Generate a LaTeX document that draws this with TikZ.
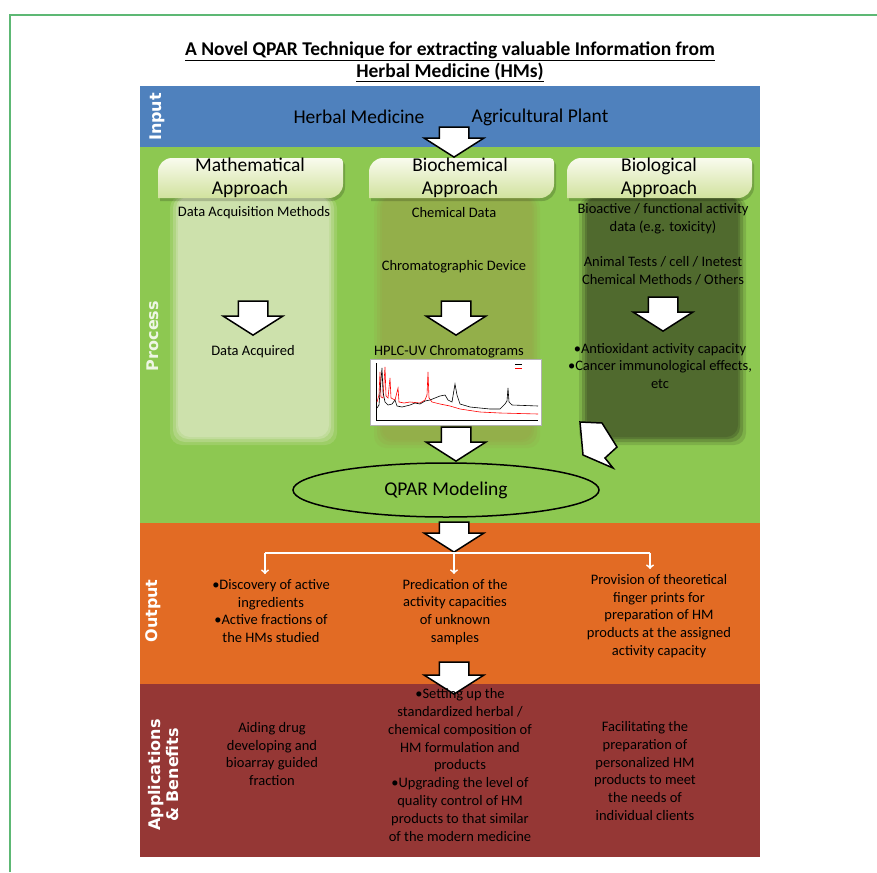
\documentclass[tikz,border=0pt]{standalone}
\usepackage{fontspec}
\setmainfont{Carlito}
\newfontfamily\sidefont{DejaVu Sans}
\usetikzlibrary{shapes, arrows}
\definecolor{inblue}{HTML}{4F81BD}
\definecolor{procgreen}{HTML}{8DC851}
\definecolor{outorange}{HTML}{E26B24}
\definecolor{appred}{HTML}{953735}
\definecolor{mathpane}{HTML}{CDE1AC}
\definecolor{chempane}{HTML}{93AF4A}
\definecolor{biopane}{HTML}{506A2E}
\definecolor{tabtop}{HTML}{F9FBEE}
\definecolor{tabbot}{HTML}{D1E29E}
\definecolor{framegreen}{HTML}{5DB874}
\tikzstyle{txt} = [font=\fontsize{14.5}{17.8}\selectfont, align=center, inner sep=0pt]
\tikzstyle{big} = [font=\fontsize{19.5}{23.4}\selectfont, align=center, inner sep=0pt]
\tikzstyle{side} = [font=\sidefont\bfseries\fontsize{16}{18}\selectfont, text=white,
    rotate=90, align=center, inner sep=0pt]
\tikzstyle{tab} = [top color=tabtop, bottom color=tabbot]
\tikzstyle{barrow} = [single arrow, draw, line width=1.5pt, fill=white, rotate=-90, anchor=tip,
    inner xsep=0pt, inner ysep=14pt, single arrow head extend=15pt,
    single arrow tip angle=115, minimum height=34pt]
\tikzstyle{line} = [draw=white, line width=1.8pt]

\begin{document}
\begin{tikzpicture}[x=1pt, y=-1pt]
\useasboundingbox (0,0) rectangle (877,872);
\draw[framegreen, line width=1.5pt] (10,872) -- (10,15) -- (877,15);

% title
\node[font=\bfseries\fontsize{19.5}{21.5}\selectfont, align=center, inner sep=0pt] (title) at (450,62)
    {\underline{A Novel QPAR Technique for extracting valuable Information from}\\\underline{Herbal Medicine (HMs)}};

% bands
\fill[inblue] (140,86) rectangle (760,147);
\fill[procgreen] (140,147) rectangle (760,523);
\fill[outorange] (140,523) rectangle (760,684);
\fill[appred] (140,684) rectangle (760,857);

% soft panels under the tabs
\foreach \xa/\xb/\yb/\col in {178/329/437/mathpane, 382/532/440/chempane, 587/738/437/biopane}
  \foreach \e/\o in {8/.25, 5/.4, 2/.6, 0/1}
    \fill[\col, opacity=\o, rounded corners=12pt] (\xa-\e,196) rectangle (\xb+\e,\yb+\e);

% tabs
\foreach \x in {158,369,567} {
  \fill[black, opacity=.18] (\x+92,201) -- (\x+2,201) [rounded corners=14pt] -- (\x+2,161)
    [rounded corners=4pt] -- (\x+187,161) [rounded corners=14pt] -- (\x+187,201) [sharp corners] -- cycle;
  \shade[tab] (\x+90,198) -- (\x,198) [rounded corners=14pt] -- (\x,158)
    [rounded corners=4pt] -- (\x+185,158) [rounded corners=14pt] -- (\x+185,198) [sharp corners] -- cycle;
}
\node[big] (tabM) at (250,178) {Mathematical\\Approach};
\node[big] (tabC) at (460,178) {Biochemical\\Approach};
\node[big] (tabB) at (659,178) {Biological\\Approach};

% input
\node[side] (lin) at (157,117) {Input};
\node[big] (herb) at (359,117) {Herbal Medicine};
\node[big] (agri) at (540,117) {Agricultural Plant};
\node[barrow, minimum height=30pt] (a0) at (454,158) {};

% process
\node[side, text opacity=.85] (lproc) at (153,336) {Process};
\node[txt] (m1) at (254,213) {Data Acquisition Methods};
\node[barrow] (am) at (253,336) {};
\node[txt] (m2) at (253,352) {Data Acquired};

\node[txt] (c1) at (454,213) {Chemical Data};
\node[txt, below of=c1, node distance=54pt] (c2) {Chromatographic Device};
\node[barrow] (ac) at (456,336) {};
\node[txt] (c3) at (449,352) {HPLC-UV Chromatograms};

\node[txt] (b1) at (663,219) {Bioactive / functional activity\\data (e.g. toxicity)};
\node[txt] (b2) at (663,271) {Animal Tests / cell / Inetest\\Chemical Methods / Others};
\node[barrow] (ab) at (663,332) {};
\node[txt] (b3) at (660,366) {\textbullet Antioxidant activity capacity\\\textbullet Cancer immunological effects,\\etc};

% chromatogram
\node[draw=gray!60, fill=white, minimum width=171pt, minimum height=66pt, inner sep=0pt] (chrom) at (455.5,392) {};
\draw[black, line width=.5pt] (376,363) -- (376,420) -- (538,420);
\draw[black, line width=.4pt] (515,364) -- (522,364);
\draw[red, line width=.4pt] (515,368) -- (522,368);
\draw[red, line width=.6pt] (377,402) -- (379,395) -- (380,372) -- (381,397) -- (383,398) -- (385,367)
    -- (386,396) -- (388,398) -- (390,378) -- (391,398) -- (395,400) -- (398,388) -- (399,402)
    -- (404,403) -- (410,402) -- (420,403) -- (425,400) -- (427,395) -- (428,372) -- (429,398)
    -- (432,402) -- (440,404) -- (450,406) -- (460,409) -- (480,412) -- (500,413) -- (538,414);
\draw[black, line width=.6pt] (377,408) -- (379,405) -- (381,380) -- (382,368) -- (383,392) -- (385,402)
    -- (388,405) -- (392,404) -- (395,400) -- (397,406) -- (402,407) -- (410,405) -- (415,403)
    -- (420,404) -- (425,401) -- (430,400) -- (435,398) -- (440,396) -- (445,395) -- (448,400)
    -- (452,402) -- (454,390) -- (455,384) -- (457,395) -- (460,404) -- (470,407) -- (490,409)
    -- (500,409) -- (505,404) -- (507,401) -- (508,388) -- (509,402) -- (512,405) -- (538,406);

\node[barrow] (aq) at (456,462) {};
\node[ellipse, draw, line width=1.5pt, minimum width=306pt, minimum height=54pt, big] (qpar) at (446,490) {QPAR Modeling};
\draw[line width=1.5pt, fill=white] (580,422) -- (602,423) -- (617,447) -- (605,458) -- (613,468) -- (583,455) -- cycle;

% output
\node[barrow, minimum height=30pt] (aout) at (454,553) {};
\node[side] (lout) at (153,611) {Output};
\node[txt] (o1) at (271,611) {\textbullet Discovery of active\\ingredients\\\textbullet Active fractions of\\the HMs studied};
\node[txt] (o2) at (455,612) {Predication of the\\activity capacities\\of unknown\\samples};
\node[txt] (o3) at (659,616) {Provision of theoretical\\finger prints for\\preparation of HM\\products at the assigned\\activity capacity};
\coordinate (hub) at (aout.tip);
\coordinate (j1) at (265,553);
\coordinate (j3) at (650,553);
\draw[line] (j1) -- (j3);
\draw[line, ->] (j1) -- ([yshift=5pt]j1 |- o1.north);
\draw[line, ->] (hub) -- ([yshift=5pt]hub |- o2.north);
\draw[line, ->] (j3) -- ([yshift=5pt]j3 |- o3.north);

% applications
\node[barrow, minimum height=32pt] (aapp) at (454,695) {};
\node[side] (lapp) at (164,775) {Applications\\\& Benefits};
\node[txt] (p1) at (272,754) {Aiding drug\\developing and\\bioarray guided\\fraction};
\node[txt] (p2) at (460,765) {\textbullet Setting up the\\standardized herbal /\\chemical composition of\\HM formulation and\\products\\\textbullet Upgrading the level of\\quality control of HM\\products to that similar\\of the modern medicine};
\node[txt] (p3) at (645,771) {Facilitating the\\preparation of\\personalized HM\\products to meet\\the needs of\\individual clients};
\end{tikzpicture}
\end{document}
